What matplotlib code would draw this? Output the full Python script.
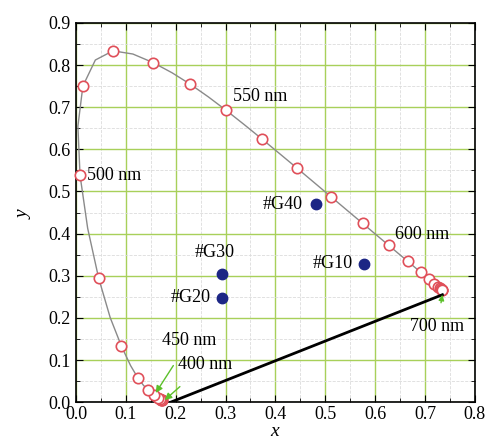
import matplotlib
matplotlib.use("Agg")
import matplotlib.pyplot as plt

plt.rcParams['font.family'] = ['Liberation Serif', 'DejaVu Serif']
plt.rcParams['mathtext.fontset'] = 'custom'
plt.rcParams['mathtext.it'] = 'Liberation Serif:italic'

# CIE 1931 spectral locus, 5 nm steps from 400 to 700 nm
wl = list(range(400, 705, 5))
locus_x = [0.1733, 0.1730, 0.1726, 0.1721, 0.1714, 0.1703, 0.1689, 0.1669, 0.1644, 0.1611,
           0.1566, 0.1510, 0.1440, 0.1355, 0.1241, 0.1096, 0.0913, 0.0687, 0.0454, 0.0235,
           0.0082, 0.0039, 0.0139, 0.0389, 0.0743, 0.1142, 0.1547, 0.1929, 0.2296, 0.2658,
           0.3016, 0.3373, 0.3731, 0.4087, 0.4441, 0.4788, 0.5125, 0.5448, 0.5752, 0.6029,
           0.6270, 0.6482, 0.6658, 0.6801, 0.6915, 0.7006, 0.7079, 0.7140, 0.7190, 0.7230,
           0.7260, 0.7283, 0.7300, 0.7311, 0.7320, 0.7327, 0.7334, 0.7340, 0.7344, 0.7346,
           0.7347]
locus_y = [0.0048, 0.0048, 0.0048, 0.0048, 0.0051, 0.0058, 0.0069, 0.0086, 0.0109, 0.0138,
           0.0177, 0.0227, 0.0297, 0.0399, 0.0578, 0.0868, 0.1327, 0.2007, 0.2950, 0.4127,
           0.5384, 0.6548, 0.7502, 0.8120, 0.8338, 0.8262, 0.8059, 0.7816, 0.7543, 0.7243,
           0.6923, 0.6589, 0.6245, 0.5896, 0.5547, 0.5202, 0.4866, 0.4544, 0.4242, 0.3965,
           0.3725, 0.3514, 0.3340, 0.3197, 0.3083, 0.2993, 0.2920, 0.2859, 0.2809, 0.2770,
           0.2740, 0.2717, 0.2700, 0.2689, 0.2680, 0.2673, 0.2666, 0.2660, 0.2656, 0.2654,
           0.2653]

# purple boundary line as drawn
purple_x = [0.19, 0.735]
purple_y = [0.0, 0.255]

# samples
samples = ['#G10', '#G20', '#G30', '#G40']
sample_x = [0.577, 0.293, 0.293, 0.481]
sample_y = [0.329, 0.248, 0.304, 0.470]

fig = plt.figure(figsize=(4.9, 4.41), dpi=100)
ax = fig.add_axes([0.155, 0.088, 0.814, 0.86])

ax.set_xlim(0, 0.8)
ax.set_ylim(0, 0.9)
ax.set_xticks([0.0, 0.1, 0.2, 0.3, 0.4, 0.5, 0.6, 0.7, 0.8])
ax.set_yticks([0.0, 0.1, 0.2, 0.3, 0.4, 0.5, 0.6, 0.7, 0.8, 0.9])
ax.set_xticks([i * 0.05 for i in range(1, 16, 2)], minor=True)
ax.set_yticks([i * 0.05 for i in range(1, 18, 2)], minor=True)
ax.grid(which='major', color='#a8d05a', lw=1.0)
ax.grid(which='minor', color='#dcdcdc', lw=0.6, ls='--')
ax.set_axisbelow(True)
ax.tick_params(which='both', direction='in', top=True, right=True, labelsize=13)
ax.tick_params(axis='x', pad=3)
ax.tick_params(axis='y', pad=4)
ax.tick_params(which='major', length=5)
ax.tick_params(which='minor', length=3)
for s in ax.spines.values():
    s.set_linewidth(1.2)

ax.plot(locus_x, locus_y, color='#8a8a8a', lw=1.0, zorder=3)
mx = [locus_x[i] for i in range(0, len(wl), 2)]
my = [locus_y[i] for i in range(0, len(wl), 2)]
ax.plot(mx, my, 'o', ms=7.5, mfc='white', mec='#e0505a', mew=1.2, zorder=4, clip_on=False)
ax.plot(purple_x, purple_y, color='black', lw=2.0, zorder=5)

ax.plot(sample_x, sample_y, 'o', ms=7.5, color='#1c2685', zorder=6)
ax.text(0.555, 0.329, samples[0], ha='right', va='center', fontsize=13)
ax.text(0.270, 0.248, samples[1], ha='right', va='center', fontsize=13)
ax.text(0.279, 0.356, samples[2], ha='center', va='center', fontsize=13)
ax.text(0.455, 0.470, samples[3], ha='right', va='center', fontsize=13)

ax.text(0.022, 0.537, '500 nm', ha='left', va='center', fontsize=13)
ax.text(0.314, 0.725, '550 nm', ha='left', va='center', fontsize=13)
ax.text(0.640, 0.397, '600 nm', ha='left', va='center', fontsize=13)

green = '#5cc02a'
ax.annotate('450 nm', xy=(0.160, 0.022), xytext=(0.228, 0.147), ha='center', va='center',
            fontsize=13, zorder=7,
            arrowprops=dict(arrowstyle='-|>', color=green, lw=1.0, mutation_scale=10,
                            shrinkA=12, shrinkB=0))
ax.annotate('400 nm', xy=(0.178, 0.005), xytext=(0.259, 0.090), ha='center', va='center',
            fontsize=13, zorder=7,
            arrowprops=dict(arrowstyle='-|>', color=green, lw=1.0, mutation_scale=10,
                            shrinkA=12, shrinkB=0))
ax.annotate('700 nm', xy=(0.735, 0.255), xytext=(0.724, 0.180), ha='center', va='center',
            fontsize=13, zorder=7,
            arrowprops=dict(arrowstyle='-|>', color=green, lw=1.0, mutation_scale=8,
                            shrinkA=9, shrinkB=0))

ax.set_xlabel('$x$', fontsize=14, labelpad=0)
ax.set_ylabel('$y$', fontsize=14, labelpad=11)

fig.savefig('out.png', dpi=100)
